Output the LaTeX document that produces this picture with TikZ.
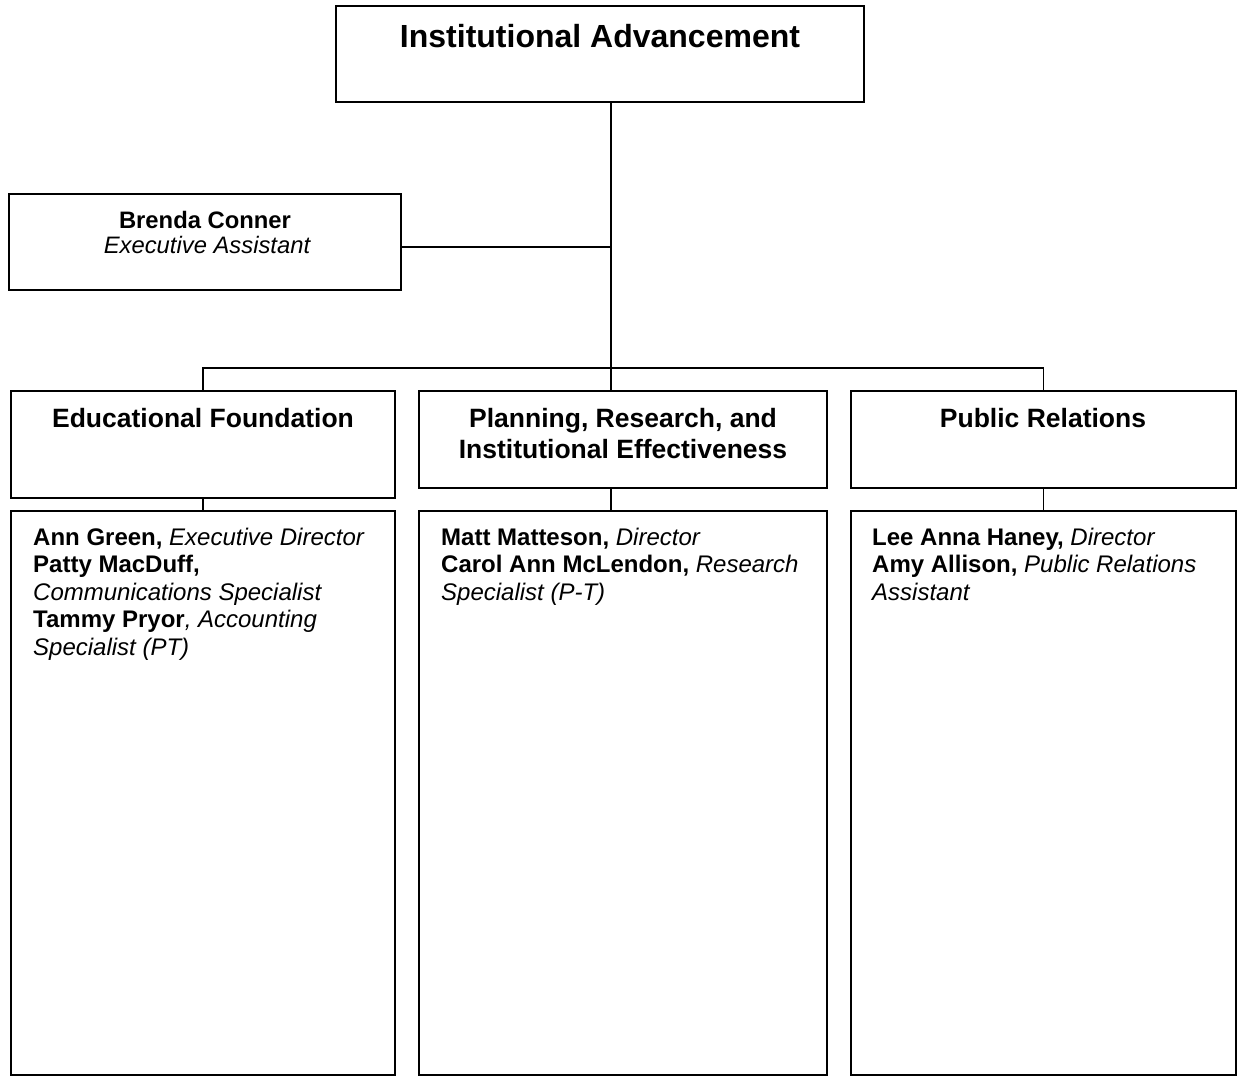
\documentclass[tikz,border=0pt]{standalone}
\usepackage{fontspec}
\setmainfont{Liberation Sans}
\begin{document}
\begin{tikzpicture}[x=1pt,y=-1pt,
  box/.style={draw=black,line width=1.9pt,fill=white,inner sep=0pt,rectangle},
  conn/.style={draw=black,line width=1.9pt},
  head/.style={font=\fontsize{26.5}{31}\selectfont\bfseries,anchor=base,inner sep=0pt},
  body/.style={font=\fontsize{24}{27.5}\selectfont,anchor=base west,inner sep=0pt}]
\useasboundingbox (0,0) rectangle (1241,1077);
% boxes
\node[box,minimum width=528pt,minimum height=96pt] (top) at (600,54) {};
\node[box,minimum width=392pt,minimum height=96pt] (brenda) at (205,242) {};
\node[box,minimum width=384pt,minimum height=107pt] (ed) at (203,444.5) {};
\node[box,minimum width=408pt,minimum height=97pt] (plan) at (623,439.5) {};
\node[box,minimum width=385pt,minimum height=97pt] (pr) at (1043.5,439.5) {};
\node[box,minimum width=384pt,minimum height=564pt] (edlow) at (203,793) {};
\node[box,minimum width=408pt,minimum height=564pt] (planlow) at (623,793) {};
\node[box,minimum width=385pt,minimum height=564pt] (prlow) at (1043.5,793) {};
% connectors
\coordinate (bus) at (611,368);
\draw[conn] (top.south -| bus) -- (bus);
\draw[conn] ([yshift=-5pt]brenda.east) -- ([yshift=-5pt]brenda.east -| bus);
\draw[conn] (ed.north) |- (bus) -| (pr.north);
\draw[conn] (bus) -- (plan.north -| bus);
\draw[conn] (ed.south) -- (edlow.north);
\draw[conn] (plan.south -| bus) -- (planlow.north -| bus);
\draw[conn] (pr.south) -- (prlow.north);
% texts
\node[head,font=\fontsize{32}{32}\selectfont\bfseries] (ttop) at (600,47) {Institutional Advancement};
\node[anchor=base,inner sep=0pt,font=\fontsize{23.8}{23.8}\selectfont\bfseries] (tb1) at (205,228) {Brenda Conner};
\node[anchor=base,inner sep=0pt,font=\fontsize{23.8}{23.8}\selectfont\itshape] (tb2) at (207,253) {Executive Assistant};
\node[head] (ted) at (203,427) {Educational Foundation};
\node[head] (tplan1) at (623,427) {Planning, Research, and};
\node[head] (tplan2) at (623,458) {Institutional Effectiveness};
\node[head] (tpr) at (1043,427) {Public Relations};
% Educational Foundation staff
\node[body] (e1) at (33,545) {\textbf{Ann Green,} \textit{Executive Director}};
\node[body] (e2) at (33,572.5) {\textbf{Patty MacDuff,}};
\node[body] (e3) at (33,600) {\textit{Communications Specialist}};
\node[body] (e4) at (33,627.5) {\textbf{Tammy Pryor}\textit{, Accounting}};
\node[body] (e5) at (33,655) {\textit{Specialist (PT)}};
% Planning staff
\node[body] (p1) at (441,545) {\textbf{Matt Matteson,} \textit{Director}};
\node[body] (p2) at (441,572.5) {\textbf{Carol Ann McLendon,} \textit{Research}};
\node[body] (p3) at (441,600) {\textit{Specialist (P-T)}};
% Public Relations staff
\node[body] (r1) at (872,545) {\textbf{Lee Anna Haney,} \textit{Director}};
\node[body] (r2) at (872,572.5) {\textbf{Amy Allison,} \textit{Public Relations}};
\node[body] (r3) at (872,600) {\textit{Assistant}};
\end{tikzpicture}
\end{document}
